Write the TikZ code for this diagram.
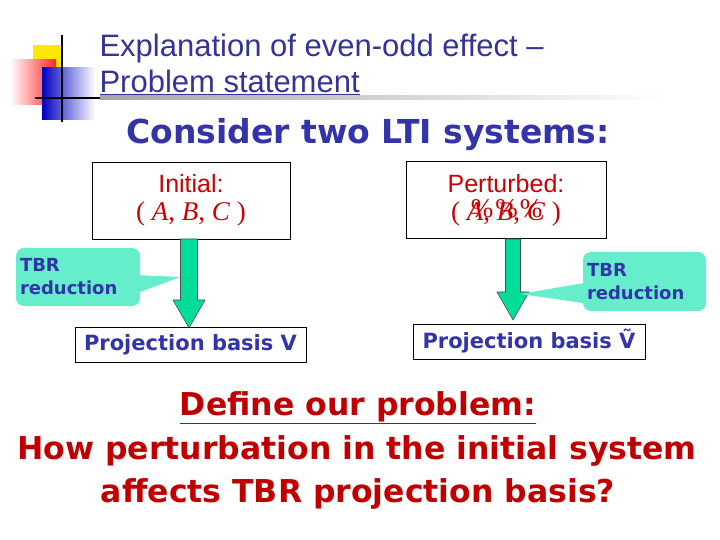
\documentclass[tikz,border=0pt]{standalone}
\usepackage{fontspec}
\setmainfont{DejaVu Sans}
\newfontfamily\thin{Liberation Sans}
\newfontfamily\ser{Liberation Serif}
\definecolor{tblue}{HTML}{333399}
\definecolor{hblue}{HTML}{3333AA}
\definecolor{dred}{HTML}{C00000}
\definecolor{tred}{HTML}{CC0000}
\definecolor{callc}{HTML}{66EECC}
\definecolor{arrc}{HTML}{00DD99}
\tikzset{sysbox/.style={draw,line width=0.8pt,minimum width=198pt,minimum height=77pt,text=tred,align=center,font=\thin\fontsize{25}{28}\selectfont},
pbox/.style={draw,line width=0.8pt,minimum height=35pt,text=hblue,font=\bfseries\fontsize{21}{24}\selectfont,inner xsep=4pt},
call/.style={fill=callc,rounded corners=8pt,text=hblue,align=left,font=\bfseries\fontsize{18}{23}\selectfont},
bigarrow/.style={draw=black!70,fill=arrc,line width=0.6pt}}
\begin{document}
\begin{tikzpicture}[x=1pt,y=1pt]
\useasboundingbox (0,0) rectangle (720,540);
% logo
\fill[yellow!90!orange] (33,468) rectangle (62,495);
\shade[left color=white,right color=red!85] (10,435) rectangle (56,480);
\shade[left color=blue!75!black,right color=white] (42,420) rectangle (95,472);
\draw[line width=1.5pt] (62,418) -- (62,505);
\draw[line width=1.5pt] (35,442) -- (100,442);
\shade[left color=gray!70,right color=white] (100,440) rectangle (670,444);
% title
\node[anchor=west,text=tblue,font=\thin\fontsize{31}{34}\selectfont] (t1) at (96,492) {Explanation of even-odd effect –};
\node[anchor=west,text=tblue,font=\thin\fontsize{31}{34}\selectfont] (t2) at (96,458) {\underline{Problem statement}};
\node[text=hblue,font=\bfseries\fontsize{33}{36}\selectfont] (h) at (368,405) {Consider two LTI systems:};
% boxes
\node[sysbox] (b1) at (191,339.5) {Initial:\\[0pt]{\ser\fontsize{27}{28}\selectfont( \textit{A}, \textit{B}, \textit{C} )}};
\node[sysbox,minimum width=200pt] (b2) at (506,340) {Perturbed:\\[0pt]{\ser\fontsize{27}{28}\selectfont( \rlap{\raisebox{3pt}{\kern4pt\%\kern2pt\%\kern2pt\%}}\textit{A}, \textit{B}, \textit{C} )}};
% arrows
\coordinate (tip1) at (189,212);
\coordinate (tip2) at (513,220);
\draw[bigarrow] (180.5,301) -- (197.5,301) -- (197.5,240) -- (205,240) -- (tip1) -- (173,240) -- (180.5,240) -- cycle;
\draw[bigarrow] (505.5,301) -- (520.5,301) -- (520.5,248) -- (529,248) -- (tip2) -- (497,248) -- (505.5,248) -- cycle;
% callouts
\coordinate (p1) at (180,263);
\coordinate (p2) at (520,246);
\fill[callc] (135,265) -- (p1) -- (135,246) -- cycle;
\fill[callc] (590,258) -- (p2) -- (590,236) -- cycle;
\node[call,minimum width=124pt,minimum height=58pt,text width=116pt] (c1) at (78,263) {TBR\\reduction};
\node[call,minimum width=123pt,minimum height=59pt,text width=115pt] (c2) at (644.5,258.5) {TBR\\reduction};
% projection boxes
\node[pbox,minimum width=231pt] (pb1) at (190.5,195.5) {Projection basis V};
\node[pbox,minimum width=232pt] (pb2) at (529,198.5) {Projection basis \~{V}};
% bottom
\node[text=dred,font=\bfseries\fontsize{31.5}{34}\selectfont] (d1) at (358,132) {\underline{Define our problem:}};
\node[text=dred,font=\bfseries\fontsize{31.5}{34}\selectfont] (d2) at (357,89) {How perturbation in the initial system};
\node[text=dred,font=\bfseries\fontsize{31.5}{34}\selectfont] (d3) at (358,46) {affects TBR projection basis?};
\end{tikzpicture}
\end{document}
